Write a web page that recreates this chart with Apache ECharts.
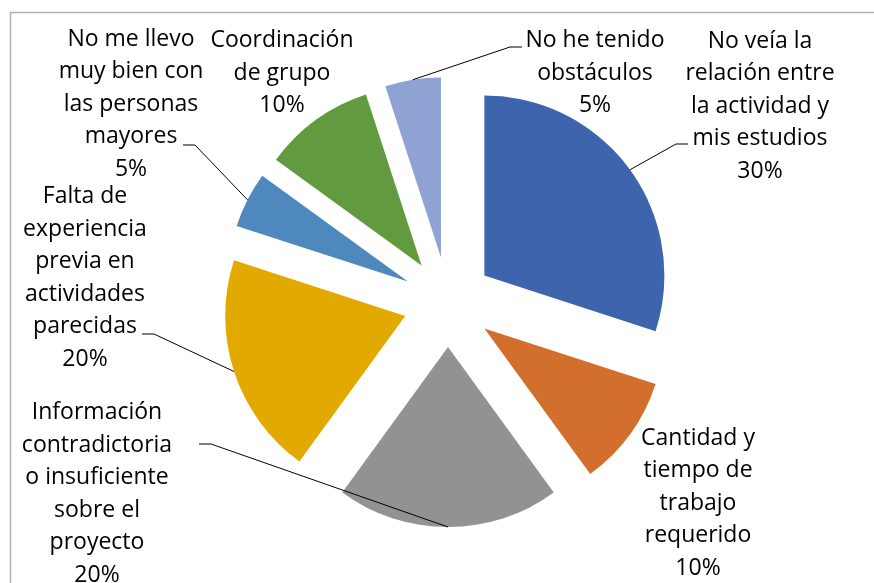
<!DOCTYPE html>
<html>
<head>
<meta charset="utf-8">
<script src="https://cdn.jsdelivr.net/npm/echarts@6.0.0/dist/echarts.min.js"></script>
<style>
  html, body { margin: 0; padding: 0; background: #fff; }
  #chart { width: 874px; height: 583px; }
</style>
</head>
<body>
<div id="chart"></div>
<script>
// categories (clockwise from 12 o'clock), values in %
var categories = [
  'No veía la\nrelación entre\nla actividad y\nmis estudios',
  'Cantidad y\ntiempo de\ntrabajo\nrequerido',
  'Información\ncontradictoria\no insuficiente\nsobre el\nproyecto',
  'Falta de\nexperiencia\nprevia en\nactividades\nparecidas',
  'No me llevo\nmuy bien con\nlas personas\nmayores',
  'Coordinación\nde grupo',
  'No he tenido\nobstáculos'
]
var values = [30, 10, 20, 20, 5, 10, 5]
var colors = ['#3d64ac', '#d36f2d', '#929292', '#e2aa00', '#4e88bd', '#629a40', '#8ea2d3']
// label block centres [x, y]
var labelPos = [
  [760, 106],
  [698, 503],
  [97, 494],
  [85, 278],
  [131, 104],
  [282, 73],
  [595, 73]
]
// where the leader line meets the text (null = no leader line)
var lineAnchor = [
  [688, 144],
  null,
  [199, 444],
  [142, 334],
  [183, 145],
  null,
  [522, 47]
]

var explode = 45
var tick = 12
// how far each slice is pulled out along its bisector
var total = values.reduce(function (a, b) { return a + b }, 0)
var shifts = []
var cum = 0
values.forEach(function (v) {
  var mid = -Math.PI / 2 + (cum + v / 2) / total * Math.PI * 2
  shifts.push([Math.cos(mid) * explode, Math.sin(mid) * explode])
  cum += v
})

var myChart = echarts.init(document.getElementById('chart'))
var option = {
  animation: false,
  graphic: [
    {
      type: 'rect',
      shape: { x: 10.5, y: 12.5, width: 900, height: 600 },
      style: { fill: 'none', stroke: '#b0b0b0', lineWidth: 1.5 },
      silent: true
    }
  ],
  series: [
    {
      // exploded slices
      type: 'pie',
      z: 2,
      center: [448, 302],
      radius: [0, 180],
      startAngle: 90,
      selectedMode: 'multiple',
      selectedOffset: explode,
      emphasis: { disabled: true },
      label: { show: false },
      labelLine: { show: false },
      data: categories.map(function (name, i) {
        return {
          name: name,
          value: values[i],
          selected: true,
          itemStyle: { color: colors[i] }
        }
      })
    },
    {
      // labels and leader lines, drawn over the slices
      type: 'pie',
      z: 5,
      center: [448, 302],
      radius: [0, 180],
      startAngle: 90,
      silent: true,
      selectedMode: false,
      avoidLabelOverlap: false,
      emphasis: { disabled: true },
      itemStyle: { color: 'rgba(0,0,0,0)' },
      label: {
        show: true,
        formatter: '{b}\n{c}%',
        color: '#000',
        fontFamily: '"Open Sans", sans-serif',
        fontSize: 23,
        lineHeight: 32.5,
        align: 'center'
      },
      labelLine: {
        show: true,
        lineStyle: { color: '#000', width: 1 }
      },
      labelLayout: function (params) {
        var i = params.dataIndex
        var p = labelPos[i]
        var out = { x: p[0], y: p[1], align: 'center', verticalAlign: 'middle' }
        var a = lineAnchor[i]
        if (a && params.labelLinePoints) {
          var s = shifts[i]
          var p0 = params.labelLinePoints[0]
          var dir = a[0] > 448 ? -1 : 1
          out.labelLinePoints = [
            [p0[0] + s[0], p0[1] + s[1]],
            [a[0] + dir * tick, a[1]],
            [a[0], a[1]]
          ]
        }
        return out
      },
      data: categories.map(function (name, i) {
        return {
          name: name,
          value: values[i],
          labelLine: { show: !!lineAnchor[i] }
        }
      })
    }
  ]
}
myChart.setOption(option)
</script>
</body>
</html>
